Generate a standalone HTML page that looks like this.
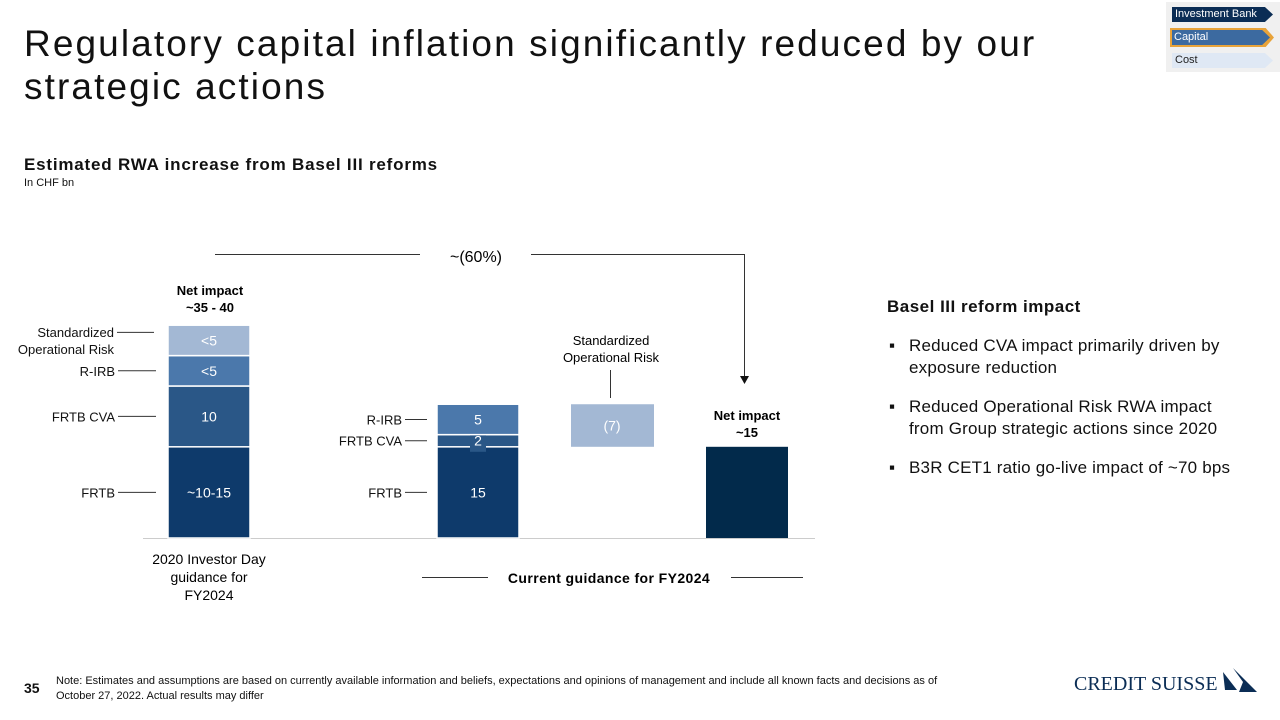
<!DOCTYPE html>
<html><head><meta charset="utf-8"><style>
body{margin:0;width:1280px;height:720px;background:#fff;font-family:"Liberation Sans",Arial,sans-serif;position:relative;overflow:hidden;color:#111}
.a{position:absolute}
</style></head><body>
<div class="a" style="left:24px;top:22px;font-size:37px;line-height:43px;color:#111;letter-spacing:2.1px">Regulatory capital inflation significantly reduced by our<br>strategic actions</div>
<div class="a" style="left:1166px;top:2px;width:114px;height:70px;background:#f0f0f0"></div>
<div class="a" style="left:1172px;top:7px;width:98px;height:15px;background:#0b2d55;color:#fff;font-size:11px;line-height:15px;padding-left:3px;clip-path:polygon(0 0,92% 0,100% 50%,92% 100%,0 100%)">Investment Bank</div>
<div class="a" style="left:1170px;top:28px;width:104px;height:19px;background:#e8a33a;clip-path:polygon(0 0,92% 0,100% 50%,92% 100%,0 100%)"><div style="position:absolute;left:2px;top:2px;width:96px;height:15px;background:#3c6aa0;color:#fff;font-size:11px;line-height:15px;padding-left:2px;clip-path:polygon(0 0,92% 0,100% 50%,92% 100%,0 100%)">Capital</div></div>
<div class="a" style="left:1172px;top:53px;width:98px;height:15px;background:#dfe8f4;color:#222;font-size:11px;line-height:15px;padding-left:3px;clip-path:polygon(0 0,92% 0,100% 50%,92% 100%,0 100%)">Cost</div>
<div class="a" style="left:24px;top:155px;font-size:17px;font-weight:bold;letter-spacing:0.8px">Estimated RWA increase from Basel III reforms</div>
<div class="a" style="left:24px;top:177px;font-size:11px">In CHF bn</div>

<svg class="a" style="left:0;top:0" width="1280" height="720" font-family="Liberation Sans, Arial, sans-serif">
<g id="marks"></g>
</svg>

<div class="a" style="left:887px;top:297px;font-size:17px;font-weight:bold;letter-spacing:0.5px">Basel III reform impact</div>
<div class="a" style="left:887px;top:335px;font-size:17px;line-height:22px;width:370px;letter-spacing:0.2px">
<div style="position:relative;padding-left:22px;margin-bottom:17px"><span style="position:absolute;left:2px;top:0">▪</span>Reduced CVA impact primarily driven by exposure reduction</div>
<div style="position:relative;padding-left:22px;margin-bottom:17px"><span style="position:absolute;left:2px;top:0">▪</span>Reduced Operational Risk RWA impact<br>from Group strategic actions since 2020</div>
<div style="position:relative;padding-left:22px"><span style="position:absolute;left:2px;top:0">▪</span>B3R CET1 ratio go-live impact of ~70 bps</div>
</div>
<div class="a" style="left:24px;top:680px;font-size:14px;font-weight:bold">35</div>
<div class="a" style="left:56px;top:674px;font-size:11px;line-height:15px;width:925px">Note: Estimates and assumptions are based on currently available information and beliefs, expectations and opinions of management and include all known facts and decisions as of<br>October 27, 2022. Actual results may differ</div>
<div class="a" style="left:1074px;top:673px;font-family:'Liberation Serif',serif;font-size:20px;color:#0b2d55;letter-spacing:0px">CREDIT SUISSE</div>
<svg class="a" style="left:1221px;top:668px" width="38" height="26"><polygon points="2,4 16,22 4,22" fill="#0b2d55"/><polygon points="12,0 36,24 18,24 22,14" fill="#0b2d55"/></svg>

<script>
const categories=["2020 Investor Day","Current FRTB/CVA/R-IRB","Op Risk reduction","Net impact"];
const bar1Values=[15,10,5,5];
const bar1Labels=["~10-15","10","<5","<5"];
const bar1Names=["FRTB","FRTB CVA","R-IRB","Standardized\nOperational Risk"];
const bar2Values=[15,2,5];
const bar2Labels=["15","2","5"];
const bar2Names=["FRTB","FRTB CVA","R-IRB"];
const opRiskValue=[-7];
const opRiskLabels=["(7)"];
const netValue=[15];
const colors=["#0e3a6b","#2a5787","#4b78ab","#a3b8d4"];
const NS="http://www.w3.org/2000/svg";
const g=document.getElementById("marks");
const base=538, scale=6.08;
const y=v=>base-v*scale;
const barX=[168,437,571,706], barW=82;
function el(t,a,txt){const e=document.createElementNS(NS,t);for(const k in a)e.setAttribute(k,a[k]);if(txt!==undefined)e.textContent=txt;g.appendChild(e);return e;}
let ax=el("line",{x1:143,x2:815,y1:base+0.5,y2:base+0.5,stroke:"#ccc","stroke-width":1});


function leftLabel(name,yc,xr,lineLen){
  const lines=name.split("\n");
  lines.forEach((l,i)=>{const t=el("text",{x:xr,y:yc+5+(i-(lines.length-1)/2)*17,"text-anchor":"end","font-size":13,fill:"#111"},l);
  
  });
  const ln=el("line",{x1:xr+3,x2:xr+3+lineLen,y1:yc-(lines.length>1?8:0),y2:yc-(lines.length>1?8:0),stroke:"#333","stroke-width":1});
  
  
}
let cum=0;
bar1Values.forEach((v,i)=>{
  const y0=y(cum+v),h=v*scale;
  const r=el("rect",{x:barX[0],y:y0,width:barW,height:h,fill:colors[i],stroke:"#fff","stroke-width":1.5});
  
  
  const t=el("text",{x:barX[0]+barW/2,y:y0+h/2+5,"text-anchor":"middle","font-size":14,fill:"#fff"},bar1Labels[i]);
  
  
  leftLabel(bar1Names[i],y0+h/2,i==3?114:115,i==3?37:38);
  cum+=v;
});
cum=0;
bar2Values.forEach((v,i)=>{
  const y0=y(cum+v),h=v*scale;
  const r=el("rect",{x:barX[1],y:y0,width:barW,height:h,fill:colors[i==2?2:i==1?1:0],stroke:"#fff","stroke-width":1.5});
  
  
  if(i==1){const b=el("rect",{x:barX[1]+barW/2-8,y:y0-5,width:16,height:h+10,fill:colors[1]});
    
    }
  const t=el("text",{x:barX[1]+barW/2,y:y0+h/2+5,"text-anchor":"middle","font-size":14,fill:"#fff"},bar2Labels[i]);
  
  
  leftLabel(bar2Names[i],y0+h/2,402,22);
  cum+=v;
});
const top3=y(cum), h3=-opRiskValue[0]*scale;
let r3=el("rect",{x:barX[2],y:top3,width:barW+1,height:h3,fill:colors[3]});


let t3=el("text",{x:barX[2]+barW/2,y:top3+h3/2+5,"text-anchor":"middle","font-size":14,fill:"#fff"},opRiskLabels[0]);


let l3=el("line",{x1:610.5,x2:610.5,y1:370,y2:398,stroke:"#333"});


["Standardized","Operational Risk"].forEach((s,i)=>{const t=el("text",{x:611,y:345+i*17,"text-anchor":"middle","font-size":13},s);
  
  });
const h4=netValue[0]*scale;
let r4=el("rect",{x:barX[3],y:base-h4,width:barW,height:h4,fill:"#022a4b"});


[["Net impact",base-h4-27],["~15",base-h4-10]].forEach(([s,yy])=>{const t=el("text",{x:barX[3]+barW/2,y:yy,"text-anchor":"middle","font-size":13,"font-weight":"bold"},s);
  
  });
const tot1=bar1Values.reduce((a,b)=>a+b,0);
[["Net impact",y(tot1)-30],["~35 - 40",y(tot1)-13]].forEach(([s,yy])=>{const t=el("text",{x:barX[0]+barW/2+1,y:yy,"text-anchor":"middle","font-size":13,"font-weight":"bold"},s);
  
  });
["2020 Investor Day","guidance for","FY2024"].forEach((s,i)=>{const t=el("text",{x:209,y:564+i*18,"text-anchor":"middle","font-size":14},s);
  
  });
let cg=el("text",{x:609,y:583,"text-anchor":"middle","font-size":14,"font-weight":"bold","letter-spacing":"0.4"},"Current guidance for FY2024");


[[422,488],[731,803]].forEach(([a,b])=>{const l=el("line",{x1:a,x2:b,y1:577.5,y2:577.5,stroke:"#333"});
  
  });
let p=el("path",{d:"M215 254.5 H420 M531 254.5 H744.5 V378",fill:"none",stroke:"#333","stroke-width":1});


let ah=el("polygon",{points:"740,376 749,376 744.5,384",fill:"#111"});


let pct=el("text",{x:476,y:262,"text-anchor":"middle","font-size":16},"~(60%)");


</script>
</body></html>
